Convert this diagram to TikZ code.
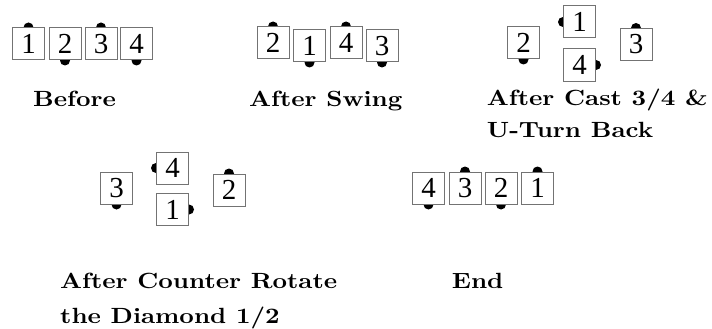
\documentclass[tikz,border=0pt]{standalone}
\usepackage{fontspec}
\newfontfamily\capfont[FakeStretch=1.15]{lmroman10-bold.otf}
\newfontfamily\numfont{Liberation Serif}
\usetikzlibrary{backgrounds}

\begin{document}
\begin{tikzpicture}[
    x=1pt, y=-1pt,
    dancer/.style={rectangle, draw=black!55, line width=1pt, fill=white, minimum size=32pt, inner sep=0pt, font=\numfont\fontsize{29}{29}\selectfont},
    caption/.style={anchor=base west, inner sep=0pt, font=\capfont\fontsize{22}{22}\selectfont},
    nose/.style={fill=black}
]
\useasboundingbox (0,0) rectangle (712,329);

% Before
\node[dancer] (b1) at (28.5,44) {1};
\node[dancer] (b2) at (65,44) {2};
\node[dancer] (b3) at (101,44) {3};
\node[dancer] (b4) at (136.5,44) {4};
\node[caption] (capBefore) at (33,106.7) {Before};

% After Swing
\node[dancer] (s2) at (273,43) {2};
\node[dancer] (s1) at (309.5,46) {1};
\node[dancer] (s4) at (346,43) {4};
\node[dancer] (s3) at (382,46) {3};
\node[caption] (capSwing) at (249,106.7) {After Swing};

% After Cast 3/4 & U-Turn Back
\node[dancer] (c2) at (523.5,43) {2};
\node[dancer] (c1) at (579.5,22) {1};
\node[dancer] (c4) at (579.5,65) {4};
\node[dancer] (c3) at (636,44.5) {3};
\node[caption] (capCastA) at (486.7,105.7) {After Cast 3/4 \&};
\node[caption] (capCastB) at (486.7,137.7) {U-Turn Back};

% After Counter Rotate the Diamond 1/2
\node[dancer] (r3) at (116.5,188) {3};
\node[dancer] (r4) at (172.5,168) {4};
\node[dancer] (r1) at (172.5,209.5) {1};
\node[dancer] (r2) at (229,190) {2};
\node[caption] (capRotA) at (60,288.3) {After Counter Rotate};
\node[caption] (capRotB) at (60,323.3) {the Diamond 1/2};

% End
\node[dancer] (e4) at (428.5,188) {4};
\node[dancer] (e3) at (465,188) {3};
\node[dancer] (e2) at (501,188) {2};
\node[dancer] (e1) at (537.5,188) {1};
\node[caption] (capEnd) at (451.7,288.3) {End};

% facing noses
\begin{scope}[on background layer]
\foreach \d/\a in {b1/north, b2/south, b3/north, b4/south,
                   s2/north, s1/south, s4/north, s3/south,
                   c2/south, c1/west, c4/east, c3/north,
                   r3/south, r4/west, r1/east, r2/north,
                   e4/south, e3/north, e2/south, e1/north}
  \fill[nose] (\d.\a) circle (5pt);
\end{scope}
\end{tikzpicture}
\end{document}
